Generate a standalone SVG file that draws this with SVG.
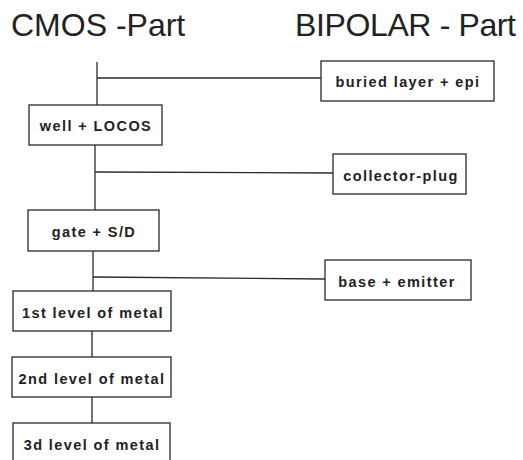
<svg xmlns="http://www.w3.org/2000/svg" width="523" height="460" viewBox="0 0 523 460">
<style>
.box{fill:#fff;stroke:#2a2a2a;stroke-width:1.3}
.lbl{font-family:"Liberation Sans",Arial,sans-serif;font-weight:bold;font-size:14.5px;letter-spacing:1.4px;fill:#222;text-anchor:middle}
.ttl{font-family:"Liberation Sans",Arial,sans-serif;font-size:32px;fill:#222}
.con{stroke:#2a2a2a;stroke-width:1.3;fill:none}
</style>
<rect width="523" height="460" fill="#fff"/>
<text class="ttl" x="11" y="36">CMOS -Part</text>
<text class="ttl" x="295" y="36" textLength="221">BIPOLAR - Part</text>
<g id="connectors">
<line class="con" x1="97" y1="62" x2="97" y2="105"/>
<line class="con" x1="97" y1="78" x2="321" y2="78"/>
<line class="con" x1="95" y1="145" x2="95" y2="210"/>
<line class="con" x1="95" y1="172" x2="333" y2="173"/>
<line class="con" x1="93" y1="251" x2="93" y2="291"/>
<line class="con" x1="93" y1="277" x2="325" y2="279"/>
<line class="con" x1="92" y1="331" x2="92" y2="357"/>
<line class="con" x1="92" y1="397" x2="92" y2="423"/>
</g>
<g id="buried">
<rect class="box" x="321" y="61" width="173" height="40"/>
<text class="lbl" x="408" y="87">buried layer + epi</text>
</g>
<g id="well">
<rect class="box" x="29" y="105" width="133" height="40"/>
<text class="lbl" x="96" y="131">well + LOCOS</text>
</g>
<g id="collector">
<rect class="box" x="333" y="154" width="133" height="40"/>
<text class="lbl" x="401" y="181">collector-plug</text>
</g>
<g id="gate">
<rect class="box" x="28" y="210" width="131" height="41"/>
<text class="lbl" x="94" y="237">gate + S/D</text>
</g>
<g id="base">
<rect class="box" x="325" y="260" width="146" height="40"/>
<text class="lbl" x="397" y="287">base + emitter</text>
</g>
<g id="metal1">
<rect class="box" x="13" y="291" width="158" height="40"/>
<text class="lbl" x="93" y="318">1st level of metal</text>
</g>
<g id="metal2">
<rect class="box" x="12" y="357" width="159" height="40"/>
<text class="lbl" x="92" y="384">2nd level of metal</text>
</g>
<g id="metal3">
<rect class="box" x="13" y="423" width="157" height="50"/>
<text class="lbl" x="92" y="450">3d level of metal</text>
</g>
</svg>
